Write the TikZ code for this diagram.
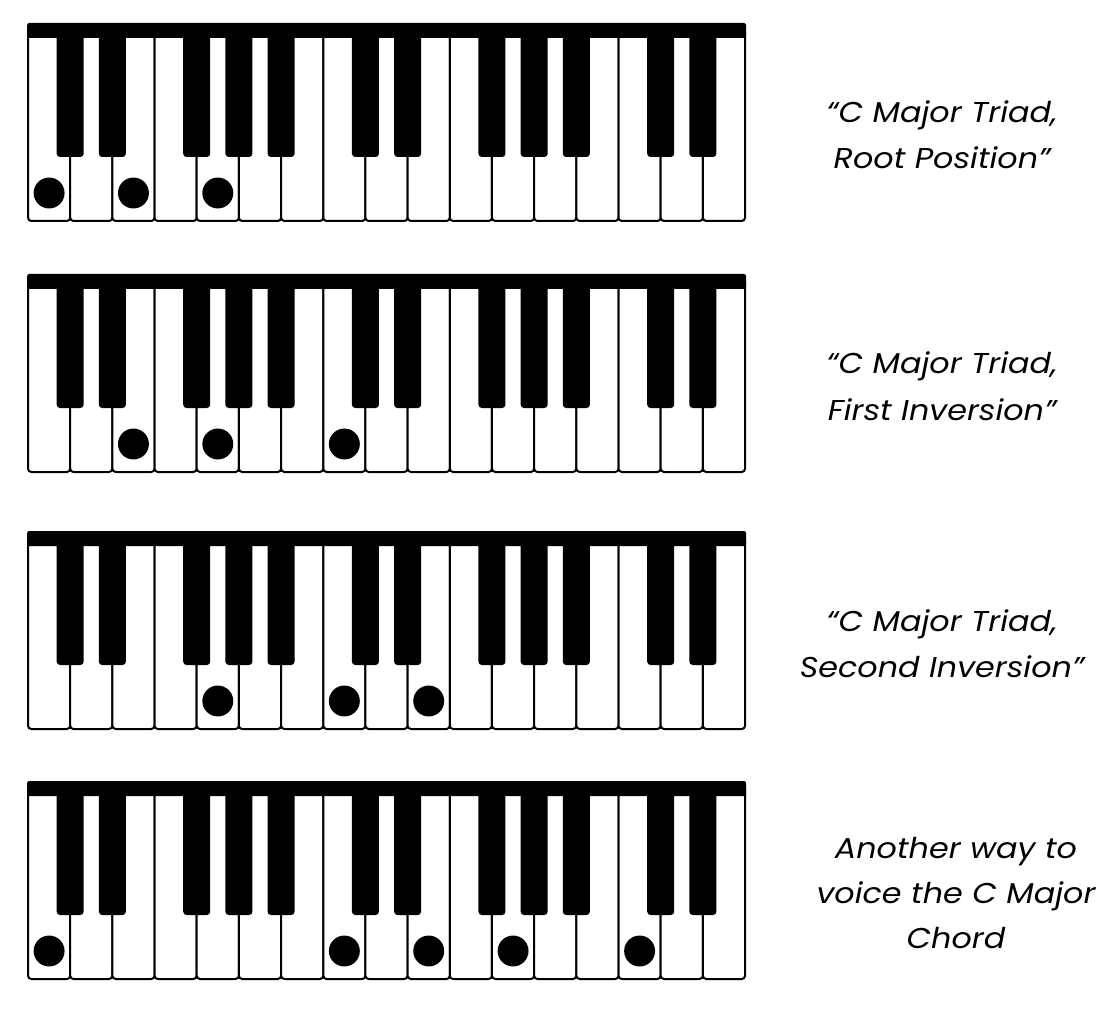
\documentclass[tikz,border=0pt]{standalone}
\usepackage{fontspec}
\setmainfont{Poppins}[FakeStretch=1.11]
\newcommand\kw{42.18}
\begin{document}
\begin{tikzpicture}[x=0.75pt,y=-0.75pt,
  whitekey/.style={draw=black,fill=white,line width=1.5pt,rounded corners=2.5pt},
  blackkey/.style={fill=black,rounded corners=2.5pt},
  topbar/.style={fill=black,rounded corners=1.5pt},
  notedot/.style={fill=black},
  lbl/.style={anchor=base,inner sep=0pt,font=\fontsize{21.5}{30}\selectfont\itshape}]
\useasboundingbox (0,0) rectangle (1117,1009);
\foreach \t/\dl in {23/{0,2,4}, 274/{2,4,7}, 531/{4,7,9}, 781/{0,7,9,11,14}}{
  \foreach \i in {0,...,16}{
    \draw[whitekey] ({28+\i*\kw},\t+6) rectangle ({28+(\i+1)*\kw},\t+198);
  }
  \fill[topbar] (27.2,\t) rectangle (746,\t+15);
  \foreach \j in {1,2,4,5,6,8,9,11,12,13,15,16}{
    \fill[blackkey] ({28+\j*\kw-13.5},\t+8) rectangle ({28+\j*\kw+13.5},\t+134);
  }
  \foreach \d in \dl{
    \fill[notedot] ({28+(\d+0.5)*\kw},\t+170) circle[radius=11.6pt];
  }
}
\node[lbl] (a1) at (942,123) {“C Major Triad,};
\node[lbl] (a2) at (942,169) {Root Position”};
\node[lbl] (b1) at (942,373) {“C Major Triad,};
\node[lbl] (b2) at (942,420) {First Inversion”};
\node[lbl] (c1) at (942,631) {“C Major Triad,};
\node[lbl] (c2) at (942,677) {Second Inversion”};
\node[lbl] (d1) at (956,858) {Another way to};
\node[lbl] (d2) at (956,903) {voice the C Major};
\node[lbl] (d3) at (956,948) {Chord};
\end{tikzpicture}
\end{document}
